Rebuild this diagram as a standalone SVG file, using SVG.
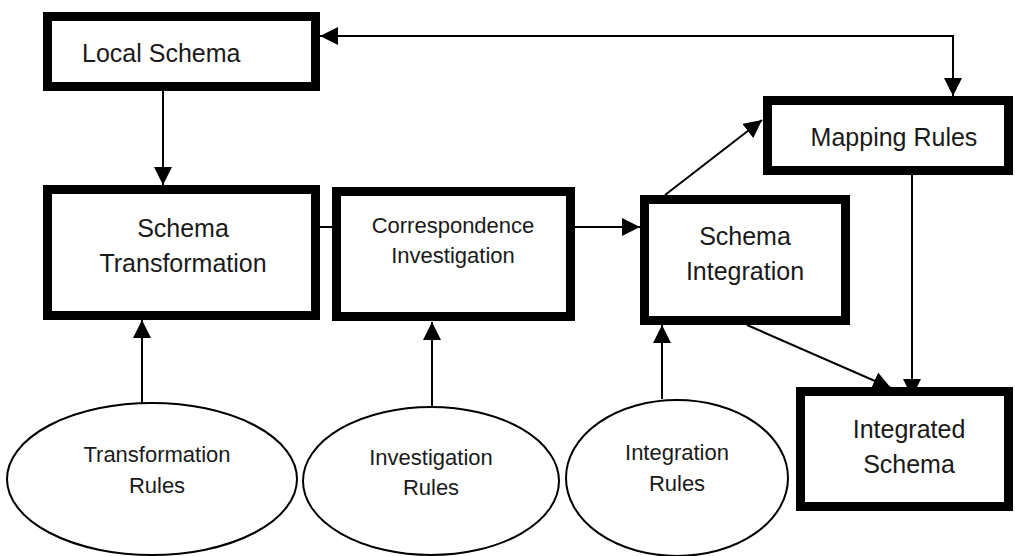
<svg xmlns="http://www.w3.org/2000/svg" width="1015" height="556" viewBox="0 0 1015 556">
  <style>
    .box { fill: #ffffff; stroke: #000000; stroke-width: 9; }
    .oval { fill: #ffffff; stroke: #000000; stroke-width: 2; }
    .lbl { font-family: "Liberation Sans", Arial, sans-serif; fill: #1a1a1a; text-anchor: middle; }
    .big { font-size: 25px; }
    .small { font-size: 22px; }
    .edge { fill: none; stroke: #000000; stroke-width: 2; }
  </style>
  <defs>
    <marker id="arrow" markerUnits="userSpaceOnUse" markerWidth="18" markerHeight="18" refX="18" refY="9" orient="auto-start-reverse">
      <path d="M0,0 L18,9 L0,18 Z" fill="#000000"/>
    </marker>
  </defs>
  <rect width="1015" height="556" fill="#ffffff"/>

  <!-- connectors -->
  <g id="connectors">
    <path class="edge" d="M320,36 H953 V96" marker-start="url(#arrow)" marker-end="url(#arrow)"/>
    <path class="edge" d="M163,91 V185" marker-end="url(#arrow)"/>
    <path class="edge" d="M320,227 H332"/>
    <path class="edge" d="M575,227 H640" marker-end="url(#arrow)"/>
    <path class="edge" d="M665,195 L762,120" marker-end="url(#arrow)"/>
    <path class="edge" d="M912,175 V397" marker-end="url(#arrow)"/>
    <path class="edge" d="M747,325 L891,388" marker-end="url(#arrow)"/>
    <path class="edge" d="M142,403 V320" marker-end="url(#arrow)"/>
    <path class="edge" d="M432,407 V322" marker-end="url(#arrow)"/>
    <path class="edge" d="M662,399 V325" marker-end="url(#arrow)"/>
  </g>

  <g id="local-schema">
    <rect class="box" x="47.5" y="16.5" width="268" height="70"/>
    <text class="lbl big" x="82" y="62" style="text-anchor:start">Local Schema</text>
  </g>

  <g id="schema-transformation">
    <rect class="box" x="47.5" y="189.5" width="268" height="126"/>
    <text class="lbl big" x="183" y="237">Schema</text>
    <text class="lbl big" x="183" y="272">Transformation</text>
  </g>

  <g id="correspondence-investigation">
    <rect class="box" x="336.5" y="191.5" width="234" height="125"/>
    <text class="lbl small" x="453" y="233">Correspondence</text>
    <text class="lbl small" x="453" y="263">Investigation</text>
  </g>

  <g id="schema-integration">
    <rect class="box" x="644.5" y="199.5" width="201" height="121"/>
    <text class="lbl big" x="745" y="245">Schema</text>
    <text class="lbl big" x="745" y="280">Integration</text>
  </g>

  <g id="mapping-rules">
    <rect class="box" x="767.5" y="100.5" width="241" height="70"/>
    <text class="lbl big" x="894" y="146">Mapping Rules</text>
  </g>

  <g id="integrated-schema">
    <rect class="box" x="800.5" y="391.5" width="208" height="115"/>
    <text class="lbl big" x="909" y="438">Integrated</text>
    <text class="lbl big" x="909" y="473">Schema</text>
  </g>

  <g id="transformation-rules">
    <ellipse class="oval" cx="152" cy="479" rx="145" ry="76"/>
    <text class="lbl small" x="157" y="462">Transformation</text>
    <text class="lbl small" x="157" y="493">Rules</text>
  </g>

  <g id="investigation-rules">
    <ellipse class="oval" cx="431" cy="481" rx="128" ry="74"/>
    <text class="lbl small" x="431" y="465">Investigation</text>
    <text class="lbl small" x="431" y="495">Rules</text>
  </g>

  <g id="integration-rules">
    <ellipse class="oval" cx="677" cy="478" rx="111" ry="78"/>
    <text class="lbl small" x="677" y="460">Integration</text>
    <text class="lbl small" x="677" y="491">Rules</text>
  </g>
</svg>
